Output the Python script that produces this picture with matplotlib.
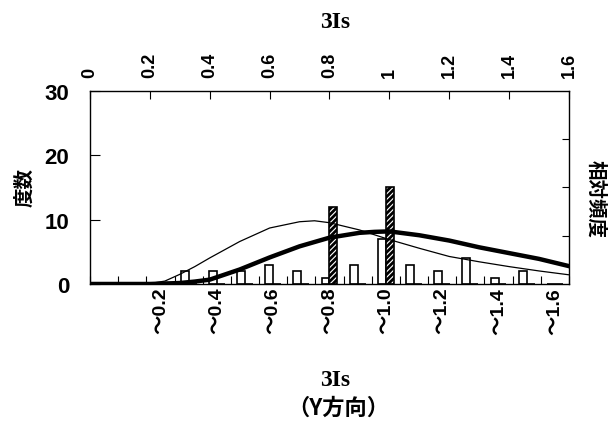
import numpy as np
import matplotlib
matplotlib.use('Agg')
import matplotlib.pyplot as plt

plt.rcParams['font.family'] = ['Liberation Sans', 'Noto Sans CJK JP']
plt.rcParams['hatch.linewidth'] = 2.0

# histogram bins (bottom axis)
bin_labels = ['0', '～0.1', '～0.2', '～0.3', '～0.4', '～0.5', '～0.6', '～0.7', '～0.8',
              '～0.9', '～1.0', '～1.1', '～1.2', '～1.3', '～1.4', '～1.5', '～1.6']
count_open = [0, 0, 0, 2, 2, 2, 3, 2, 1, 3, 7, 3, 2, 4, 1, 2, 0]
count_hatch = [0, 0, 0, 0, 0, 0, 0, 0, 12, 0, 15, 0, 0, 0, 0, 0, 0]

# relative frequency curves (top axis / right axis)
thin_x = [0, 0.1, 0.2, 0.25, 0.3, 0.35, 0.4, 0.5, 0.6, 0.7, 0.75, 0.8, 0.9,
          1.0, 1.1, 1.2, 1.3, 1.4, 1.5, 1.6]
thin_y = [0, 0, 0.01, 0.06, 0.2, 0.36, 0.54, 0.88, 1.16, 1.29, 1.31, 1.27, 1.12,
          0.92, 0.74, 0.57, 0.46, 0.36, 0.27, 0.19]
thick_x = [0, 0.2, 0.3, 0.35, 0.4, 0.5, 0.6, 0.7, 0.8, 0.9, 0.95, 1.0, 1.1,
           1.2, 1.3, 1.4, 1.5, 1.6]
thick_y = [0, 0, 0.02, 0.05, 0.09, 0.3, 0.55, 0.78, 0.96, 1.06, 1.08, 1.09, 1.01,
           0.9, 0.76, 0.64, 0.52, 0.37]

top_ticks = [0, 0.2, 0.4, 0.6, 0.8, 1.0, 1.2, 1.4, 1.6]
top_labels = ['0', '0.2', '0.4', '0.6', '0.8', '1', '1.2', '1.4', '1.6']

fig = plt.figure(figsize=(6.09, 4.27), dpi=100)
pos = [0.1478, 0.3326, 0.7865, 0.452]
ax = fig.add_axes(pos)

idx = np.arange(len(bin_labels))
bw = 0.28
ax.bar(idx - 0.14, count_open, bw, facecolor='white', edgecolor='black', linewidth=1.2, zorder=2)
ax.bar(idx + 0.14, count_hatch, bw, facecolor='white', edgecolor='black', linewidth=1.2,
       hatch='//////', zorder=2)
ax.set_xlim(-0.5, len(bin_labels) - 0.5)
ax.set_ylim(0, 30)
ax.set_yticks([0, 10, 20, 30])
ax.tick_params(axis='y', direction='in', length=7, pad=15, labelsize=16)
for t in ax.get_yticklabels():
    t.set_fontweight('bold')

# category boundaries as tick marks, labels at every second bin
ax.set_xticks(np.arange(-0.5, len(bin_labels), 1.0))
ax.set_xticklabels([])
ax.tick_params(axis='x', which='major', direction='in', length=6)
shown = idx[2::2]
ax.set_xticks(shown, minor=True)
ax.set_xticklabels([bin_labels[i] for i in shown], minor=True, rotation=90,
                   fontsize=14, fontweight='bold')
ax.tick_params(axis='x', which='minor', length=0, pad=2)
for s in ax.spines.values():
    s.set_linewidth(1.0)

# curves on independent top/right axes
ax2 = fig.add_axes(pos, frameon=False)
ax2.plot(thin_x, thin_y, color='black', linewidth=0.9, zorder=3)
ax2.plot(thick_x, thick_y, color='black', linewidth=3.2, zorder=3)
ax2.set_xlim(0, 1.6)
ax2.set_ylim(0, 4)
ax2.xaxis.tick_top()
ax2.yaxis.tick_right()
ax2.set_xticks(top_ticks)
ax2.set_xticklabels(top_labels, rotation=90, fontsize=13, fontweight='bold')
ax2.tick_params(axis='x', direction='in', length=6, pad=10)
ax2.set_yticks([1, 2, 3])
ax2.set_yticklabels([])
ax2.tick_params(axis='y', direction='in', length=5)

fig.text(0.041, 0.56, '度数', ha='center', va='center', rotation=90, fontsize=14,
         fontweight='bold', family='Noto Sans CJK JP')
fig.text(0.977, 0.535, '相対頻度', ha='center', va='center', rotation=270, fontsize=14,
         fontweight='bold', family='Noto Sans CJK JP')
fig.text(0.551, 0.948, '3Is', ha='center', va='center', fontsize=17, fontweight='bold',
         family='Liberation Serif')
fig.text(0.551, 0.108, '3Is', ha='center', va='center', fontsize=17, fontweight='bold',
         family='Liberation Serif')
fig.text(0.556, 0.043, '（Y方向）', ha='center', va='center', fontsize=16, fontweight='bold',
         family='Noto Sans CJK JP')

plt.savefig('out.png', dpi=100)
